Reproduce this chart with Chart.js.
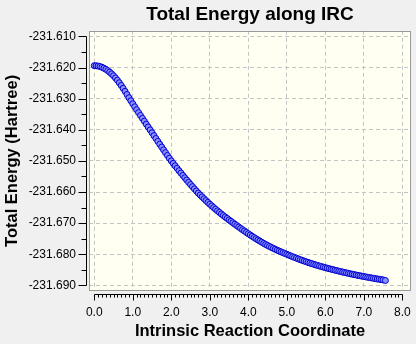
<!DOCTYPE html>
<html lang="en">
<head>
    <meta charset="UTF-8">
    <title>Total Energy along IRC</title>
    <script src="https://cdn.jsdelivr.net/npm/chart.js@4.4.1/dist/chart.umd.min.js"></script>
    <style>
        html, body {
            margin: 0;
            padding: 0;
            background-color: #f0f0f0;
        }

        #wrap {
            width: 416px;
            height: 344px;
        }
    </style>
</head>
<body>
    <div id="wrap"><canvas id="irc" width="416" height="344"></canvas></div>

    <script>
        // IRC coordinate of each point
        var coords = [
            0.00, 0.05, 0.10, 0.15, 0.20, 0.25, 0.30, 0.35, 0.40, 0.45,
            0.50, 0.55, 0.60, 0.65, 0.70, 0.75, 0.80, 0.85, 0.90, 0.95,
            1.00, 1.05, 1.10, 1.15, 1.20, 1.25, 1.30, 1.35, 1.40, 1.45,
            1.50, 1.55, 1.60, 1.65, 1.70, 1.75, 1.80, 1.85, 1.90, 1.95,
            2.00, 2.05, 2.10, 2.15, 2.20, 2.25, 2.30, 2.35, 2.40, 2.45,
            2.50, 2.55, 2.60, 2.65, 2.70, 2.75, 2.80, 2.85, 2.90, 2.95,
            3.00, 3.05, 3.10, 3.15, 3.20, 3.25, 3.30, 3.35, 3.40, 3.45,
            3.50, 3.55, 3.60, 3.65, 3.70, 3.75, 3.80, 3.85, 3.90, 3.95,
            4.00, 4.05, 4.10, 4.15, 4.20, 4.25, 4.30, 4.35, 4.40, 4.45,
            4.50, 4.55, 4.60, 4.65, 4.70, 4.75, 4.80, 4.85, 4.90, 4.95,
            5.00, 5.05, 5.10, 5.15, 5.20, 5.25, 5.30, 5.35, 5.40, 5.45,
            5.50, 5.55, 5.60, 5.65, 5.70, 5.75, 5.80, 5.85, 5.90, 5.95,
            6.00, 6.05, 6.10, 6.15, 6.20, 6.25, 6.30, 6.35, 6.40, 6.45,
            6.50, 6.55, 6.60, 6.65, 6.70, 6.75, 6.80, 6.85, 6.90, 6.95,
            7.00, 7.05, 7.10, 7.15, 7.20, 7.25, 7.30, 7.35, 7.40, 7.45,
            7.50, 7.56
        ];

        // total energy (Hartree)
        var energies = [
            -231.61940, -231.61943, -231.61953, -231.61969, -231.61992, -231.62022, -231.62057, -231.62099, -231.62148, -231.62203,
            -231.62265, -231.62334, -231.62408, -231.62489, -231.62575, -231.62668, -231.62765, -231.62867, -231.62970, -231.63068,
            -231.63165, -231.63260, -231.63355, -231.63448, -231.63540, -231.63633, -231.63725, -231.63818, -231.63910, -231.64003,
            -231.64095, -231.64188, -231.64280, -231.64373, -231.64465, -231.64555, -231.64645, -231.64735, -231.64825, -231.64913,
            -231.65000, -231.65080, -231.65158, -231.65236, -231.65314, -231.65390, -231.65466, -231.65540, -231.65614, -231.65686,
            -231.65758, -231.65828, -231.65898, -231.65966, -231.66034, -231.66095, -231.66155, -231.66215, -231.66275, -231.66333,
            -231.66390, -231.66445, -231.66500, -231.66553, -231.66605, -231.66655, -231.66705, -231.66754, -231.66802, -231.66849,
            -231.66896, -231.66942, -231.66987, -231.67033, -231.67078, -231.67123, -231.67167, -231.67211, -231.67254, -231.67297,
            -231.67340, -231.67381, -231.67422, -231.67462, -231.67501, -231.67539, -231.67577, -231.67614, -231.67650, -231.67684,
            -231.67717, -231.67749, -231.67780, -231.67810, -231.67840, -231.67868, -231.67896, -231.67923, -231.67949, -231.67975,
            -231.68000, -231.68026, -231.68052, -231.68077, -231.68102, -231.68126, -231.68150, -231.68173, -231.68196, -231.68218,
            -231.68240, -231.68261, -231.68282, -231.68302, -231.68322, -231.68341, -231.68360, -231.68378, -231.68396, -231.68413,
            -231.68430, -231.68447, -231.68463, -231.68479, -231.68495, -231.68511, -231.68526, -231.68541, -231.68556, -231.68571,
            -231.68585, -231.68599, -231.68613, -231.68627, -231.68640, -231.68653, -231.68666, -231.68679, -231.68691, -231.68703,
            -231.68715, -231.68727, -231.68738, -231.68749, -231.68760, -231.68771, -231.68782, -231.68793, -231.68803, -231.68814,
            -231.68824, -231.68842
        ];

        var xTicks = [0, 1, 2, 3, 4, 5, 6, 7, 8];
        var xLabels = ['0.0', '1.0', '2.0', '3.0', '4.0', '5.0', '6.0', '7.0', '8.0'];
        var yTicks = [-231.61, -231.62, -231.63, -231.64, -231.65, -231.66, -231.67, -231.68, -231.69];
        var yLabels = ['-231.610', '-231.620', '-231.630', '-231.640', '-231.650', '-231.660', '-231.670', '-231.680', '-231.690'];

        var points = coords.map(function (c, i) { return {x: c, y: energies[i]}; });

        // cream plot area with grey frame
        var plotFrame = {
            id: 'plotFrame',
            beforeDraw: function (chart) {
                var a = chart.chartArea, ctx = chart.ctx;
                ctx.save();
                ctx.fillStyle = '#fffff2';
                ctx.fillRect(a.left, a.top, a.right - a.left, a.bottom - a.top);
                ctx.restore();
            },
            afterDatasetsDraw: function (chart) {
                var a = chart.chartArea, ctx = chart.ctx;
                ctx.save();
                ctx.strokeStyle = '#9a9a9a';
                ctx.lineWidth = 1;
                ctx.strokeRect(Math.round(a.left) + 0.5, Math.round(a.top) + 0.5,
                    Math.round(a.right - a.left) - 1, Math.round(a.bottom - a.top) - 1);
                ctx.restore();
            }
        };

        // detached axis lines with major / minor ticks, like the original
        var axisLines = {
            id: 'axisLines',
            afterDraw: function (chart) {
                var xs = chart.scales.x, ys = chart.scales.y, ctx = chart.ctx;
                var a = chart.chartArea;
                ctx.save();
                ctx.strokeStyle = '#000';
                ctx.lineWidth = 1;
                ctx.beginPath();

                // y axis
                var ax = Math.round(a.left) - 3 + 0.5;
                var yTop = Math.round(ys.getPixelForValue(yTicks[0])) + 0.5;
                var yBot = Math.round(ys.getPixelForValue(yTicks[yTicks.length - 1])) + 0.5;
                ctx.moveTo(ax, yTop);
                ctx.lineTo(ax, yBot);
                for (var i = 0; i < yTicks.length; i++) {
                    var py = Math.round(ys.getPixelForValue(yTicks[i])) + 0.5;
                    ctx.moveTo(ax, py);
                    ctx.lineTo(ax - 8, py);
                    if (i < yTicks.length - 1) {
                        var pm = Math.round(ys.getPixelForValue(yTicks[i] - 0.005)) + 0.5;
                        ctx.moveTo(ax, pm);
                        ctx.lineTo(ax - 5, pm);
                    }
                }

                // x axis
                var ay = Math.round(a.bottom) + 3 + 0.5;
                var x0 = Math.round(xs.getPixelForValue(xTicks[0])) + 0.5;
                var x1 = Math.round(xs.getPixelForValue(xTicks[xTicks.length - 1])) + 0.5;
                ctx.moveTo(x0, ay);
                ctx.lineTo(x1, ay);
                for (var k = 0; k <= 80; k++) {
                    var px = Math.round(xs.getPixelForValue(k / 10)) + 0.5;
                    var len = (k % 10 === 0) ? 6 : 3;
                    ctx.moveTo(px, ay);
                    ctx.lineTo(px, ay + len);
                }
                ctx.stroke();
                ctx.restore();
            }
        };

        new Chart(document.getElementById('irc'), {
            type: 'scatter',
            data: {
                datasets: [{
                    data: points,
                    showLine: false,
                    pointRadius: 3,
                    pointBorderWidth: 1,
                    pointBorderColor: '#0000d0',
                    pointBackgroundColor: '#8a90ff'
                }]
            },
            options: {
                responsive: false,
                animation: false,
                layout: {padding: {right: 3, left: 0, bottom: 0, top: 0}},
                plugins: {
                    legend: {display: false},
                    tooltip: {enabled: false},
                    title: {
                        display: true,
                        fullSize: false,
                        text: 'Total Energy along IRC',
                        color: '#000',
                        font: {family: 'Liberation Sans, Arial, sans-serif', size: 19, weight: 'bold'},
                        padding: {top: 3, bottom: 5}
                    }
                },
                scales: {
                    x: {
                        type: 'linear',
                        min: -0.137,
                        max: 8.225,
                        afterBuildTicks: function (s) {
                            s.ticks = xTicks.map(function (v) { return {value: v}; });
                        },
                        afterFit: function (s) {
                            s.height = 53;
                            s.paddingLeft = 0;
                            s.paddingRight = 0;
                        },
                        ticks: {
                            autoSkip: false,
                            maxRotation: 0,
                            padding: 14,
                            color: '#000',
                            font: {family: 'Liberation Sans, Arial, sans-serif', size: 12},
                            callback: function (v, i) { return xLabels[i]; }
                        },
                        grid: {color: '#c4c4c4', drawTicks: false},
                        border: {display: false, dash: [4, 3]},
                        title: {
                            display: true,
                            text: 'Intrinsic Reaction Coordinate',
                            color: '#000',
                            font: {family: 'Liberation Sans, Arial, sans-serif', size: 16.5, weight: 'bold'},
                            padding: {top: 0, bottom: 3}
                        }
                    },
                    y: {
                        type: 'linear',
                        min: -231.6918,
                        max: -231.6082,
                        afterBuildTicks: function (s) {
                            s.ticks = yTicks.map(function (v) { return {value: v}; });
                        },
                        afterFit: function (s) {
                            s.width = 89;
                            s.paddingTop = 0;
                            s.paddingBottom = 0;
                        },
                        ticks: {
                            autoSkip: false,
                            padding: 13,
                            color: '#000',
                            font: {family: 'Liberation Sans, Arial, sans-serif', size: 12},
                            callback: function (v, i) { return yLabels[i]; }
                        },
                        grid: {color: '#c4c4c4', drawTicks: false},
                        border: {display: false, dash: [4, 3]},
                        title: {
                            display: true,
                            text: 'Total Energy (Hartree)',
                            color: '#000',
                            font: {family: 'Liberation Sans, Arial, sans-serif', size: 16.5, weight: 'bold'},
                            padding: {top: 3, bottom: 0}
                        }
                    }
                }
            },
            plugins: [plotFrame, axisLines]
        });
    </script>
</body>
</html>
